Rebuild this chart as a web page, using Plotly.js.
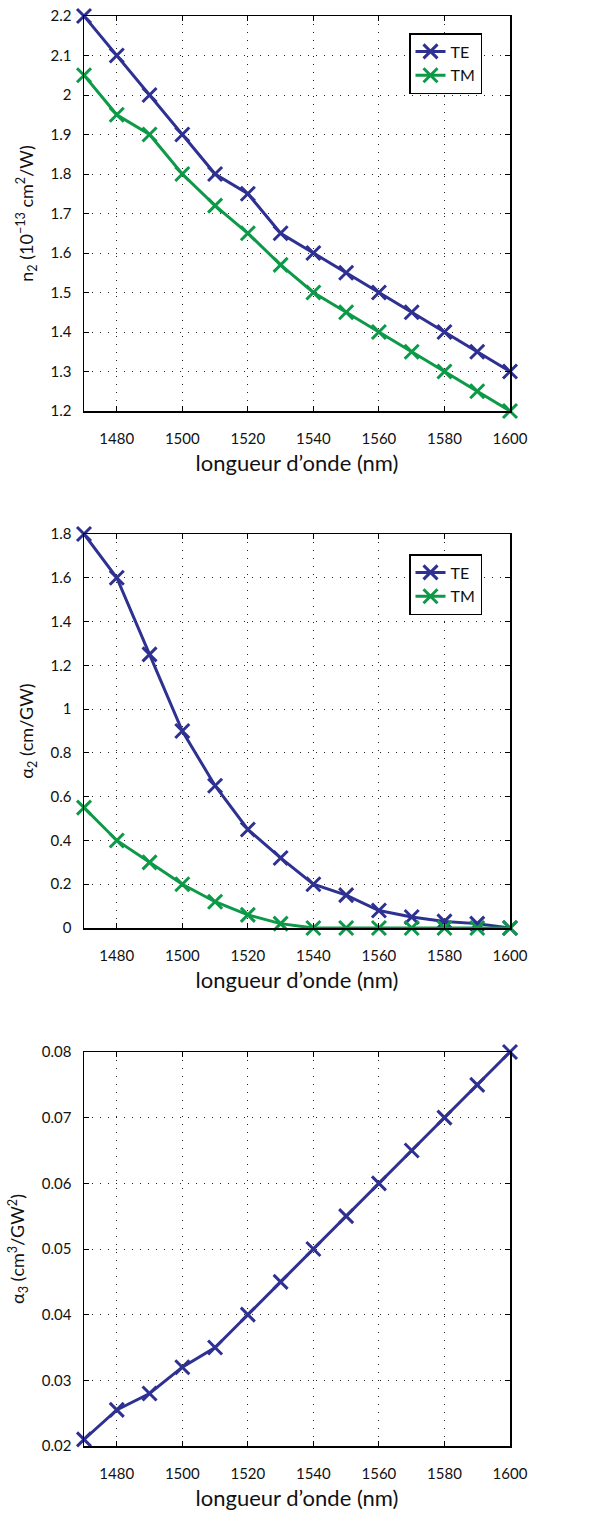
<!DOCTYPE html>
<html>
<head>
<meta charset="utf-8">
<script src="https://cdn.plot.ly/plotly-3.0.1.min.js"></script>
<style>html,body{margin:0;padding:0;background:#fff;}#chart{width:614px;height:1513px;}</style>
</head>
<body>
<div id="chart"></div>
<script>
const wavelength = [1470, 1480, 1490, 1500, 1510, 1520, 1530, 1540, 1550, 1560, 1570, 1580, 1590, 1600];
const n2TE = [2.2, 2.1, 2.0, 1.9, 1.8, 1.75, 1.65, 1.6, 1.55, 1.5, 1.45, 1.4, 1.35, 1.3];
const n2TM = [2.05, 1.95, 1.9, 1.8, 1.72, 1.65, 1.57, 1.5, 1.45, 1.4, 1.35, 1.3, 1.25, 1.2];
const a2TE = [1.8, 1.6, 1.25, 0.9, 0.65, 0.45, 0.32, 0.2, 0.15, 0.08, 0.05, 0.03, 0.02, 0.0];
const a2TM = [0.55, 0.4, 0.3, 0.2, 0.12, 0.06, 0.02, 0, 0, 0, 0, 0, 0, 0];
const a3TE = [0.021, 0.0255, 0.028, 0.032, 0.035, 0.04, 0.045, 0.05, 0.055, 0.06, 0.065, 0.07, 0.075, 0.08];
const xTicks = [1480, 1500, 1520, 1540, 1560, 1580, 1600];
const n2Ticks = [1.2, 1.3, 1.4, 1.5, 1.6, 1.7, 1.8, 1.9, 2.0, 2.1, 2.2];
const n2TickText = ['1.2', '1.3', '1.4', '1.5', '1.6', '1.7', '1.8', '1.9', '2', '2.1', '2.2'];
const a2Ticks = [0, 0.2, 0.4, 0.6, 0.8, 1, 1.2, 1.4, 1.6, 1.8];
const a3Ticks = [0.02, 0.03, 0.04, 0.05, 0.06, 0.07, 0.08];
const seriesNames = ['TE', 'TM'];
const xTitle = 'longueur d\u2019onde (nm)';

const BLUE = '#2E3192';
const GREEN = '#0D9A48';
const FONT = 'Lato, "Open Sans", sans-serif';

function line(x, y, name, color, xa, ya, legend, show) {
  return {
    x: x, y: y, name: name, type: 'scatter', mode: 'lines+markers',
    xaxis: xa, yaxis: ya, legend: legend, showlegend: show,
    line: {color: color, width: 3},
    marker: {symbol: 'x-thin', size: 14, color: color, line: {color: color, width: 3}},
    cliponaxis: false
  };
}

const data = [
  line(wavelength, n2TE, seriesNames[0], BLUE, 'x', 'y', 'legend', true),
  line(wavelength, n2TM, seriesNames[1], GREEN, 'x', 'y', 'legend', true),
  line(wavelength, a2TE, seriesNames[0], BLUE, 'x2', 'y2', 'legend2', true),
  line(wavelength, a2TM, seriesNames[1], GREEN, 'x2', 'y2', 'legend2', true),
  line(wavelength, a3TE, seriesNames[0], BLUE, 'x3', 'y3', 'legend', false)
];

const H = 1513;
function dom(top, bottom) { return [1 - bottom / H, 1 - top / H]; }

function xax(anchor) {
  return {
    anchor: anchor, range: [1470, 1600], tickvals: xTicks,
    ticks: 'inside', ticklen: 5, tickwidth: 1, tickcolor: '#000',
    showline: true, linecolor: '#000', linewidth: 1.5, mirror: 'ticks',
    showgrid: true, gridcolor: '#222', griddash: '1px,7px', gridwidth: 1,
    zeroline: false, tickfont: {size: 15, color: '#111', family: FONT},
    ticklabelstandoff: 13,
    title: {text: xTitle, font: {size: 22, color: '#111', family: FONT}, standoff: 10}
  };
}
function yax(anchor, domain, range, vals, text, title) {
  const a = {
    anchor: anchor, domain: domain, range: range, tickvals: vals,
    ticks: 'inside', ticklen: 5, tickwidth: 1, tickcolor: '#000',
    showline: true, linecolor: '#000', linewidth: 1.5, mirror: 'ticks',
    showgrid: true, gridcolor: '#222', griddash: '1px,7px', gridwidth: 1,
    zeroline: false, tickfont: {size: 15, color: '#111', family: FONT},
    ticklabelstandoff: 8,
    title: {text: title, font: {size: 18, color: '#111', family: FONT}, standoff: 12}
  };
  if (text) a.ticktext = text;
  return a;
}

const legendCommon = {
  xref: 'paper', yref: 'paper', xanchor: 'right', yanchor: 'top',
  bgcolor: '#fff', bordercolor: '#000', borderwidth: 1.5,
  font: {size: 16, color: '#111', family: FONT}, itemwidth: 30,
  tracegroupgap: 0
};

const layout = {
  width: 614, height: 1513,
  margin: {l: 84, r: 104, t: 0, b: 0},
  paper_bgcolor: '#fff', plot_bgcolor: '#fff',
  font: {family: FONT, color: '#111'},
  xaxis: xax('y'),
  xaxis2: xax('y2'),
  xaxis3: xax('y3'),
  yaxis: yax('x', dom(16, 411), [1.2, 2.2], n2Ticks, n2TickText, 'n<sub>2</sub> (10<sup>\u221213</sup> cm<sup>2</sup>/W)'),
  yaxis2: yax('x2', dom(534, 928), [0, 1.8], a2Ticks, null, '\u03b1<sub>2</sub> (cm/GW)'),
  yaxis3: yax('x3', dom(1052, 1446), [0.02, 0.08], a3Ticks, null, '\u03b1<sub>3</sub> (cm<sup>3</sup>/GW<sup>2</sup>)'),
  legend: Object.assign({}, legendCommon, {x: (482 - 84) / 426, y: 1 - 33 / H}),
  legend2: Object.assign({}, legendCommon, {x: (482 - 84) / 426, y: 1 - 554 / H}),
  showlegend: true
};

Plotly.newPlot('chart', data, layout, {staticPlot: true, displayModeBar: false});
</script>
</body>
</html>
